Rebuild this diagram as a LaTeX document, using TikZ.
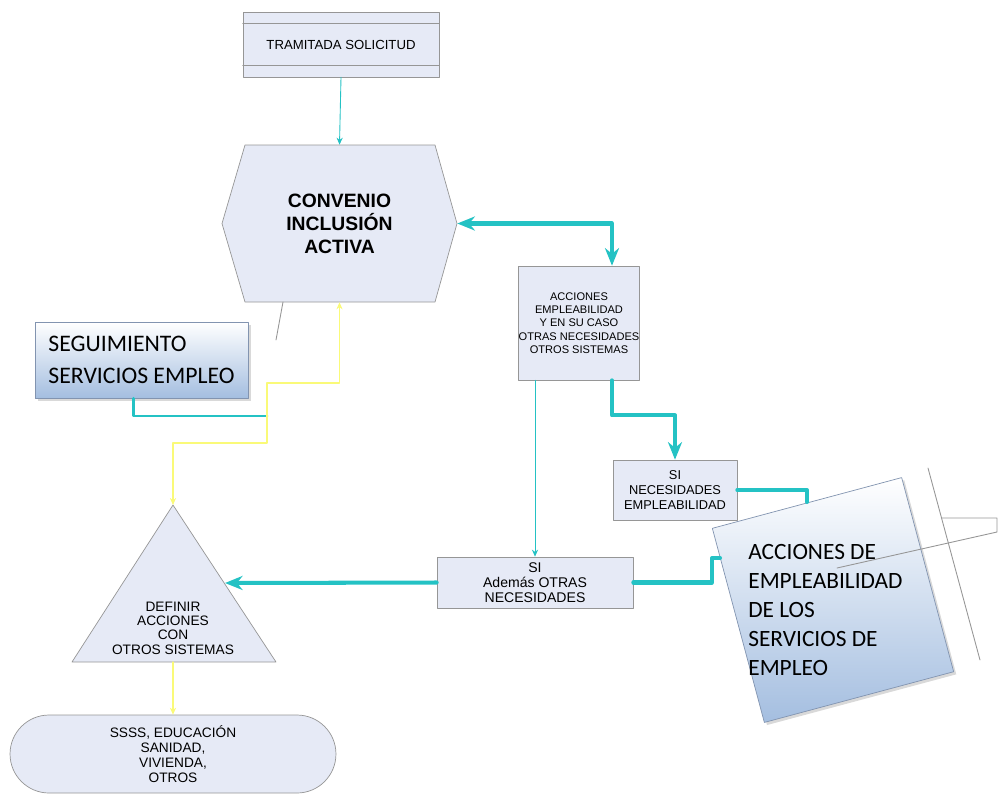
\documentclass[tikz,border=0pt]{standalone}
\usepackage{fontspec}
\setmainfont{Liberation Sans}
\newfontfamily\calib{Carlito}
\usetikzlibrary{calc,arrows.meta,shapes.misc,shadows}
\definecolor{boxfill}{RGB}{230,234,246}
\definecolor{boxedge}{RGB}{150,150,150}
\definecolor{bordeazul}{RGB}{130,148,176}
\definecolor{azul}{RGB}{164,190,224}
\definecolor{turq}{RGB}{36,194,196}
\definecolor{amar}{RGB}{250,250,120}
\tikzset{punta/.tip={Stealth[length=10pt,width=8pt]},
	puntita/.tip={Stealth[length=4pt,width=3.5pt]}}
\begin{document}
\begin{tikzpicture}[x=0.02cm, y=-0.02cm, line join=round, line cap=round,
	caja/.style={draw=boxedge, fill=boxfill, align=center, inner sep=0pt},
	grande/.style={draw=bordeazul, top color=white, bottom color=azul, inner sep=0pt},
	gruesa/.style={draw=turq, line width=2.3pt},
	media/.style={draw=turq, line width=1.6pt},
	fina/.style={draw=turq, line width=0.5pt},
	amarilla/.style={draw=amar, line width=0.7pt},
	tenue/.style={draw=boxedge, line width=0.5pt}]
\useasboundingbox (0,0) rectangle (1001,796);
% cajas
\node[caja, minimum width=3.92cm, minimum height=1.3cm, font=\fontsize{7.5}{9}\selectfont] (tram) at (341,44.5) {TRAMITADA SOLICITUD};
\draw[boxedge] ($(tram.north west)+(0,12)$) -- ($(tram.north east)+(0,12)$)
	($(tram.south west)+(0,-12)$) -- ($(tram.south east)+(0,-12)$);
\draw[boxedge, fill=boxfill] (222,223.5) -- (245,145) -- (435,145) -- (457,223.5) -- (435,302) -- (245,302) -- cycle;
\node[align=center, minimum width=4.7cm, minimum height=3.14cm, inner sep=0pt, font=\bfseries\fontsize{11}{13}\selectfont] (conv) at (339.5,223.5) {CONVENIO\\INCLUSIÓN\\ACTIVA};
\node[caja, minimum width=2.36cm, minimum height=2.28cm, font=\fontsize{6.3}{7.6}\selectfont] (acc) at (579,323) {ACCIONES\\EMPLEABILIDAD\\Y EN SU CASO\\OTRAS NECESIDADES\\OTROS SISTEMAS};
\node[caja, minimum width=2.48cm, minimum height=1.2cm, font=\fontsize{7.3}{8.5}\selectfont] (sine) at (675,490) {SI\\NECESIDADES\\EMPLEABILIDAD};
\node[caja, minimum width=3.92cm, minimum height=1.02cm, font=\fontsize{8}{8.6}\selectfont] (siad) at (535,582.5) {SI\\Además OTRAS\\NECESIDADES};
\node[grande, drop shadow={shadow xshift=1.5pt, shadow yshift=-1.5pt, opacity=.3}, minimum width=4.26cm, minimum height=1.52cm, align=left, font=\calib\fontsize{13.5}{18}\selectfont] (segui) at (141.5,360) {SEGUIMIENTO\\SERVICIOS EMPLEO};
\node[grande, drop shadow={shadow xshift=1.5pt, shadow yshift=-1.5pt, opacity=.3}, rotate=15, minimum width=3.92cm, minimum height=4.02cm] (accsep) at (833,600) {};
\node[anchor=west, align=left, inner sep=0pt, font=\calib\fontsize{13.3}{16.4}\selectfont] (accsept) at (748,610) {ACCIONES DE\\EMPLEABILIDAD\\DE LOS\\SERVICIOS DE\\EMPLEO};
\draw[boxedge, fill=boxfill] (173,505) -- (276,662) -- (72,662) -- cycle;
\node[align=center, inner sep=0pt, font=\fontsize{7.8}{8.2}\selectfont] (defin) at (173,628) {DEFINIR\\ACCIONES\\CON\\OTROS SISTEMAS};
\node[draw=boxedge, fill=boxfill, rounded rectangle, minimum width=6.52cm, minimum height=1.56cm, inner sep=0pt, align=center, font=\fontsize{7.8}{8.5}\selectfont] (otros) at (173,754) {SSSS, EDUCACIÓN\\SANIDAD,\\VIVIENDA,\\OTROS};
% puntos libres
\coordinate (defA) at (173,505);
\coordinate (defR) at (225,583);
\coordinate (defB) at (173,662);
\coordinate (accsepN) at (807,502);
\coordinate (accsepW) at (720,558);
\coordinate (segL) at (267,416);
% conectores
\draw[fina, -puntita] (tram.south) -- (conv.north);
\draw[gruesa, punta-punta] (conv.east) -| ($(acc.north)+(33,0)$);
\draw[gruesa, -punta] ($(acc.south)+(33,0)$) -- ++(0,35) -| (sine.north);
\draw[gruesa] (sine.east) -| (accsepN);
\draw[gruesa] (accsepW) -- ++(-8,0) |- (siad.east);
\draw[gruesa, -punta] (siad.west) -- (defR);
\draw[fina, -puntita] ($(acc.south)+(-44,0)$) -- (siad.north);
\draw[media] ($(segui.south)+(-8,0)$) |- (segL);
\draw[amarilla, puntita-puntita] (conv.south) -- (339.5,383) -| (267,443) -| (defA);
\draw[amarilla, -puntita] (defB) -- (otros.north);
% trazos sueltos
\draw[tenue] (283,302) -- (276,340);
\draw[tenue] (928,468) -- (980,660);
\draw[tenue] (942,518) -- (997,518) -- (997,532) -- (837,568);
\end{tikzpicture}
\end{document}
